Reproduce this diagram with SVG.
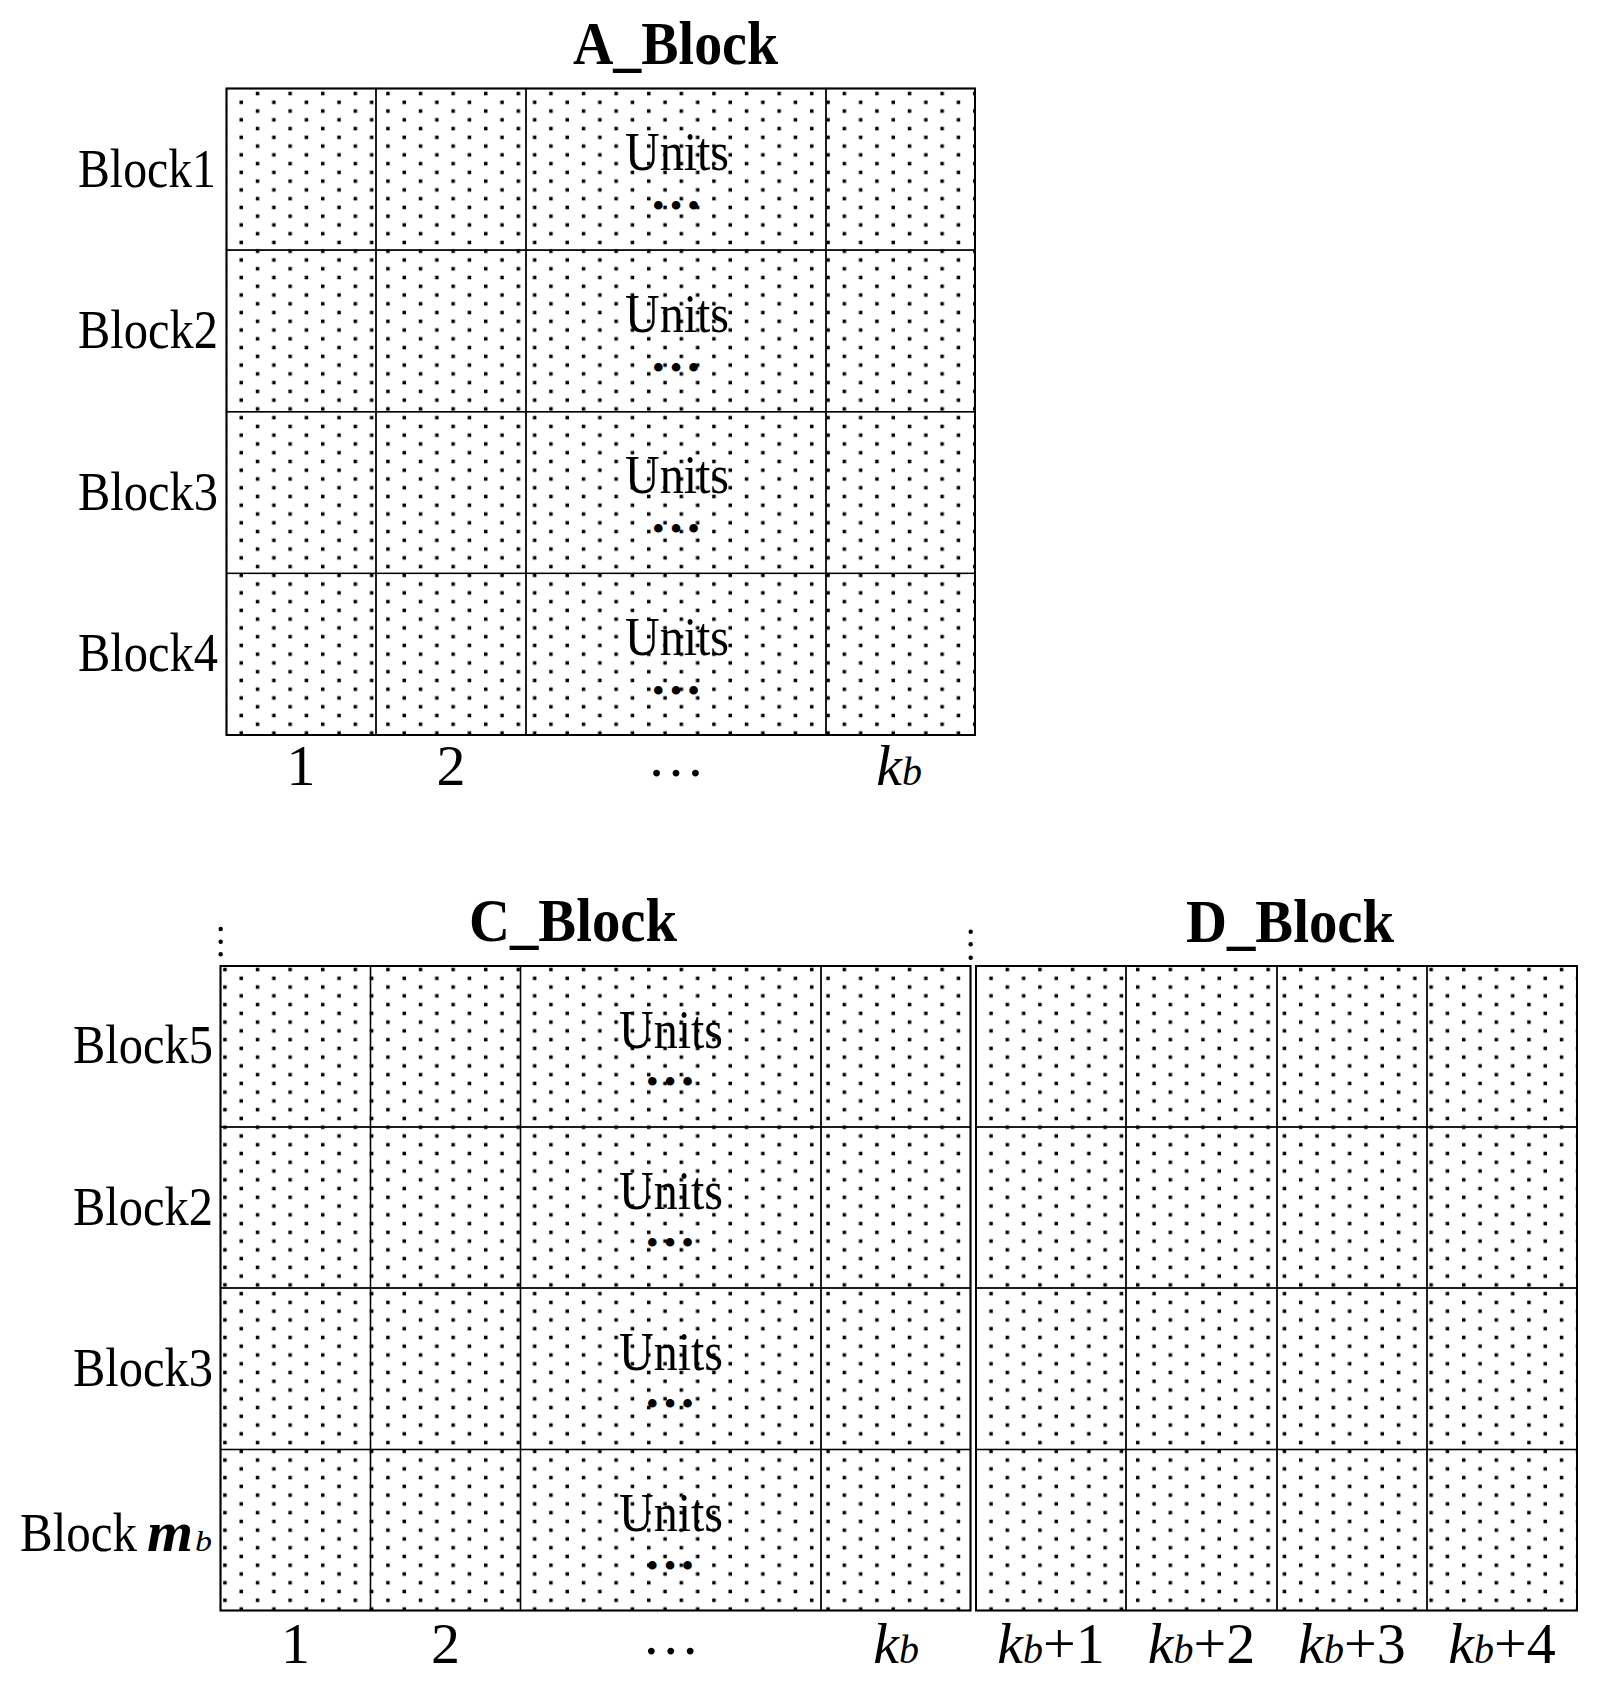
<svg xmlns="http://www.w3.org/2000/svg" width="1606" height="1690" viewBox="0 0 1606 1690">
<style>
text{font-family:"Liberation Serif","Times New Roman",serif;fill:#000}
.title{font-size:62px;font-weight:bold;text-anchor:middle}
.row{font-size:55px}
.col{font-size:58px;text-anchor:middle}
.units{font-size:55px;text-anchor:middle}
.ell{font-size:36px;text-anchor:middle;letter-spacing:5px}
.it{font-style:italic}
.cell{fill:url(#dots);stroke:#000;stroke-width:1.3}
.frame{fill:none;stroke:#000;stroke-width:2}
.vd{fill:#000}
</style>
<defs>
<pattern id="dots" patternUnits="userSpaceOnUse" x="233.1" y="89.175" width="32.6" height="17.52">
<rect x="22.7" y="2.625" width="3.5" height="3.5" fill="#000"/>
<rect x="6.4" y="11.375" width="3.5" height="3.5" fill="#000"/>
</pattern>
</defs>
<rect width="1606" height="1690" fill="#fff"/>
<g id="connectors"/>

<g id="A_Block">
<text class="title" x="675.5" y="64" textLength="205" lengthAdjust="spacingAndGlyphs">A_Block</text>
<g id="A_cells">
<rect class="cell" x="226.5" y="88.5" width="149.5" height="161.6"/>
<rect class="cell" x="376" y="88.5" width="150" height="161.6"/>
<rect class="cell" x="526" y="88.5" width="300" height="161.6"/>
<rect class="cell" x="826" y="88.5" width="149" height="161.6"/>
<rect class="cell" x="226.5" y="250.1" width="149.5" height="161.65"/>
<rect class="cell" x="376" y="250.1" width="150" height="161.65"/>
<rect class="cell" x="526" y="250.1" width="300" height="161.65"/>
<rect class="cell" x="826" y="250.1" width="149" height="161.65"/>
<rect class="cell" x="226.5" y="411.75" width="149.5" height="161.65"/>
<rect class="cell" x="376" y="411.75" width="150" height="161.65"/>
<rect class="cell" x="526" y="411.75" width="300" height="161.65"/>
<rect class="cell" x="826" y="411.75" width="149" height="161.65"/>
<rect class="cell" x="226.5" y="573.4" width="149.5" height="161.6"/>
<rect class="cell" x="376" y="573.4" width="150" height="161.6"/>
<rect class="cell" x="526" y="573.4" width="300" height="161.6"/>
<rect class="cell" x="826" y="573.4" width="149" height="161.6"/>
<rect class="frame" x="226.5" y="88.5" width="748.5" height="646.5"/>
</g>
<g id="A_units">
<text class="units" x="677" y="170" textLength="104" lengthAdjust="spacingAndGlyphs">Units</text>
<text class="ell" x="678.5" y="218">•••</text>
<text class="units" x="677" y="331.6" textLength="104" lengthAdjust="spacingAndGlyphs">Units</text>
<text class="ell" x="678.5" y="379.6">•••</text>
<text class="units" x="677" y="493.2" textLength="104" lengthAdjust="spacingAndGlyphs">Units</text>
<text class="ell" x="678.5" y="541.2">•••</text>
<text class="units" x="677" y="654.9" textLength="104" lengthAdjust="spacingAndGlyphs">Units</text>
<text class="ell" x="678.5" y="702.9">•••</text>
</g>
<g id="A_rows">
<text class="row" x="78" y="186.5" textLength="138" lengthAdjust="spacingAndGlyphs">Block1</text>
<text class="row" x="78" y="348" textLength="140" lengthAdjust="spacingAndGlyphs">Block2</text>
<text class="row" x="78" y="509.5" textLength="140" lengthAdjust="spacingAndGlyphs">Block3</text>
<text class="row" x="78" y="671" textLength="140" lengthAdjust="spacingAndGlyphs">Block4</text>
</g>
<g id="A_cols">
<text class="col" x="301" y="785">1</text>
<text class="col" x="451" y="785">2</text>
<text class="col" x="676" y="776">…</text>
<text class="col" x="899" y="785"><tspan class="it">k</tspan><tspan class="it" font-size="40">b</tspan></text>
</g>
</g>

<g id="C_Block">
<text class="title" x="573" y="940.5" textLength="208" lengthAdjust="spacingAndGlyphs">C_Block</text>
<g id="C_marks">
<circle class="vd" cx="220.7" cy="929" r="2.2"/>
<circle class="vd" cx="220.7" cy="941.7" r="2.2"/>
<circle class="vd" cx="220.7" cy="954.3" r="2.2"/>
<circle class="vd" cx="970.7" cy="931.7" r="2.2"/>
<circle class="vd" cx="970.7" cy="944.3" r="2.2"/>
<circle class="vd" cx="970.7" cy="957.7" r="2.2"/>
</g>
<g id="C_cells">
<rect class="cell" x="220.5" y="966" width="150" height="161"/>
<rect class="cell" x="370.5" y="966" width="150" height="161"/>
<rect class="cell" x="520.5" y="966" width="300.5" height="161"/>
<rect class="cell" x="821" y="966" width="149.5" height="161"/>
<rect class="cell" x="220.5" y="1127" width="150" height="161"/>
<rect class="cell" x="370.5" y="1127" width="150" height="161"/>
<rect class="cell" x="520.5" y="1127" width="300.5" height="161"/>
<rect class="cell" x="821" y="1127" width="149.5" height="161"/>
<rect class="cell" x="220.5" y="1288" width="150" height="161.5"/>
<rect class="cell" x="370.5" y="1288" width="150" height="161.5"/>
<rect class="cell" x="520.5" y="1288" width="300.5" height="161.5"/>
<rect class="cell" x="821" y="1288" width="149.5" height="161.5"/>
<rect class="cell" x="220.5" y="1449.5" width="150" height="161"/>
<rect class="cell" x="370.5" y="1449.5" width="150" height="161"/>
<rect class="cell" x="520.5" y="1449.5" width="300.5" height="161"/>
<rect class="cell" x="821" y="1449.5" width="149.5" height="161"/>
<rect class="frame" x="220.5" y="966" width="750" height="644.5"/>
</g>
<g id="C_units">
<text class="units" x="671" y="1047.5" textLength="104" lengthAdjust="spacingAndGlyphs">Units</text>
<text class="ell" x="672.5" y="1094">•••</text>
<text class="units" x="671" y="1208.5" textLength="104" lengthAdjust="spacingAndGlyphs">Units</text>
<text class="ell" x="672.5" y="1255">•••</text>
<text class="units" x="671" y="1369.5" textLength="104" lengthAdjust="spacingAndGlyphs">Units</text>
<text class="ell" x="672.5" y="1416">•••</text>
<text class="units" x="671" y="1531" textLength="104" lengthAdjust="spacingAndGlyphs">Units</text>
<text class="ell" x="672.5" y="1577.5">•••</text>
</g>
<g id="C_rows">
<text class="row" x="73" y="1063" textLength="140" lengthAdjust="spacingAndGlyphs">Block5</text>
<text class="row" x="73" y="1224.5" textLength="140" lengthAdjust="spacingAndGlyphs">Block2</text>
<text class="row" x="73" y="1386" textLength="140" lengthAdjust="spacingAndGlyphs">Block3</text>
<text class="row" y="1551"><tspan x="20" textLength="117" lengthAdjust="spacingAndGlyphs">Block</tspan><tspan class="it" x="147" font-size="58" font-weight="bold" textLength="46" lengthAdjust="spacingAndGlyphs">m</tspan><tspan class="it" x="195" font-size="30" textLength="17" lengthAdjust="spacingAndGlyphs">b</tspan></text>
</g>
<g id="C_cols">
<text class="col" x="295.5" y="1663">1</text>
<text class="col" x="445.5" y="1663">2</text>
<text class="col" x="670.75" y="1654">…</text>
<text class="col" x="896" y="1663"><tspan class="it">k</tspan><tspan class="it" font-size="40">b</tspan></text>
</g>
</g>

<g id="D_Block">
<text class="title" x="1290" y="942" textLength="208" lengthAdjust="spacingAndGlyphs">D_Block</text>
<g id="D_cells">
<rect class="cell" x="976" y="966" width="150" height="161"/>
<rect class="cell" x="1126" y="966" width="151" height="161"/>
<rect class="cell" x="1277" y="966" width="150" height="161"/>
<rect class="cell" x="1427" y="966" width="150" height="161"/>
<rect class="cell" x="976" y="1127" width="150" height="161"/>
<rect class="cell" x="1126" y="1127" width="151" height="161"/>
<rect class="cell" x="1277" y="1127" width="150" height="161"/>
<rect class="cell" x="1427" y="1127" width="150" height="161"/>
<rect class="cell" x="976" y="1288" width="150" height="161.5"/>
<rect class="cell" x="1126" y="1288" width="151" height="161.5"/>
<rect class="cell" x="1277" y="1288" width="150" height="161.5"/>
<rect class="cell" x="1427" y="1288" width="150" height="161.5"/>
<rect class="cell" x="976" y="1449.5" width="150" height="161"/>
<rect class="cell" x="1126" y="1449.5" width="151" height="161"/>
<rect class="cell" x="1277" y="1449.5" width="150" height="161"/>
<rect class="cell" x="1427" y="1449.5" width="150" height="161"/>
<rect class="frame" x="976" y="966" width="601" height="644.5"/>
</g>
<g id="D_cols">
<text class="col" x="1051" y="1663"><tspan class="it">k</tspan><tspan class="it" font-size="40">b</tspan>+1</text>
<text class="col" x="1201.5" y="1663"><tspan class="it">k</tspan><tspan class="it" font-size="40">b</tspan>+2</text>
<text class="col" x="1352" y="1663"><tspan class="it">k</tspan><tspan class="it" font-size="40">b</tspan>+3</text>
<text class="col" x="1502" y="1663"><tspan class="it">k</tspan><tspan class="it" font-size="40">b</tspan>+4</text>
</g>
</g>
</svg>
